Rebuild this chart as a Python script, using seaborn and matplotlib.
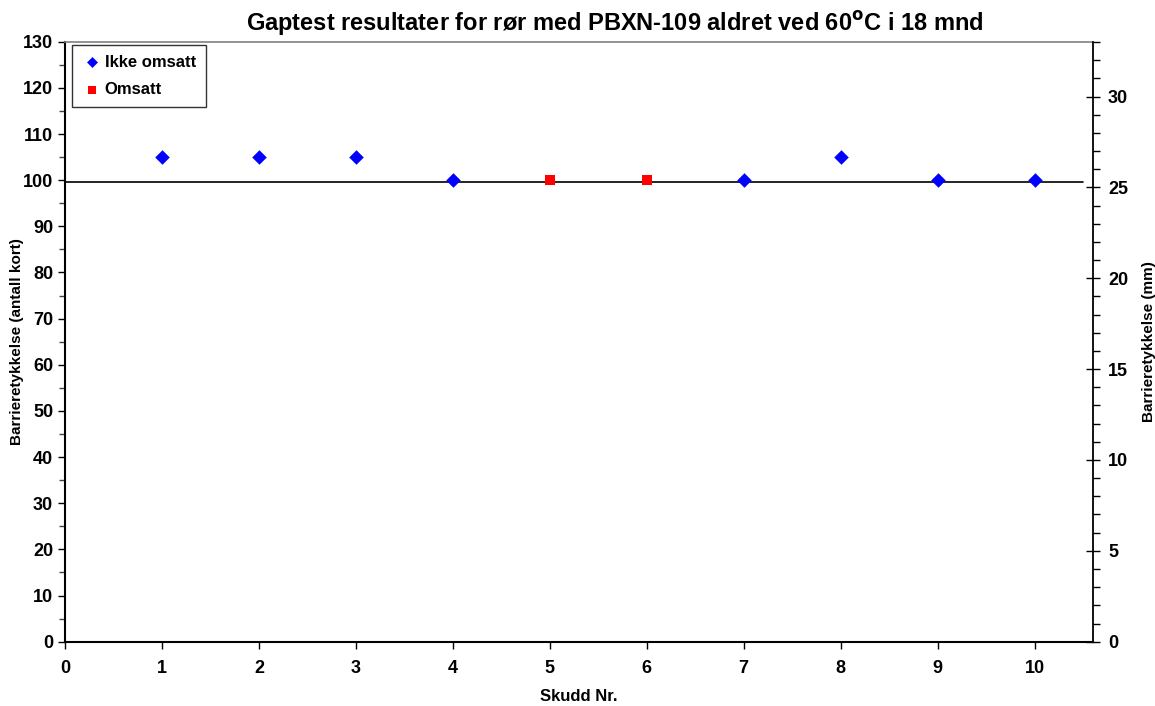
import matplotlib
matplotlib.use("Agg")
import matplotlib.pyplot as plt
import seaborn as sns
import pandas as pd
from matplotlib.ticker import MultipleLocator

shots = [1, 2, 3, 4, 5, 6, 7, 8, 9, 10]
cards = [105, 105, 105, 100, 100, 100, 100, 105, 100, 100]
status = ["Ikke omsatt", "Ikke omsatt", "Ikke omsatt", "Ikke omsatt", "Omsatt",
          "Omsatt", "Ikke omsatt", "Ikke omsatt", "Ikke omsatt", "Ikke omsatt"]
threshold = 99.5
mm_per_card = 0.254

df = pd.DataFrame({"Skudd": shots, "Kort": cards, "Status": status})

sns.set_style("white")
plt.rcParams["font.family"] = ["Liberation Sans", "DejaVu Sans"]
plt.rcParams["font.weight"] = "bold"
plt.rcParams["text.color"] = "black"
plt.rcParams["axes.labelcolor"] = "black"
plt.rcParams["xtick.color"] = "black"
plt.rcParams["ytick.color"] = "black"

fig = plt.figure(figsize=(11.55, 7.06), dpi=100)
ax = fig.add_axes([0.0563, 0.0911, 0.8898, 0.8498])

palette = {"Ikke omsatt": "#0000FF", "Omsatt": "#FF0000"}
markers = {"Ikke omsatt": "D", "Omsatt": "s"}
sizes = {"Ikke omsatt": 55, "Omsatt": 62}

for st in ["Ikke omsatt", "Omsatt"]:
    sub = df[df["Status"] == st]
    sns.scatterplot(data=sub, x="Skudd", y="Kort", color=palette[st], marker=markers[st],
                    s=sizes[st], edgecolor=palette[st], linewidth=0, ax=ax, label=st, zorder=3)

ax.plot([0, 10.5], [threshold, threshold], color="black", linewidth=1.2, zorder=2)

ax.set_xlim(0, 10.6)
ax.set_ylim(0, 130)
ax.xaxis.set_major_locator(MultipleLocator(1))
ax.yaxis.set_major_locator(MultipleLocator(10))
ax.yaxis.set_minor_locator(MultipleLocator(5))
ax.tick_params(axis="both", which="major", direction="out", length=5, width=1,
               labelsize=13, colors="black", left=True, bottom=True)
ax.tick_params(axis="x", which="major", pad=8)
ax.tick_params(axis="y", which="minor", direction="out", length=4, width=1, left=True, color="#444444")
for lab in ax.get_xticklabels() + ax.get_yticklabels():
    lab.set_fontweight("bold")

ax.set_xlabel("Skudd Nr.", fontsize=12, fontweight="bold", labelpad=9)
ax.set_ylabel("Barrieretykkelse (antall kort)", fontsize=11, fontweight="bold", labelpad=-1)
ax.set_title("Gaptest resultater for rør med PBXN-109 aldret ved 60$^\\mathbf{o}$C i 18 mnd",
             fontsize=17, fontweight="bold", pad=8, x=0.535)

for side in ["left", "bottom"]:
    ax.spines[side].set_color("black")
    ax.spines[side].set_linewidth(1.5)
for side in ["top", "right"]:
    ax.spines[side].set_color("#808080")
    ax.spines[side].set_linewidth(1.2)

ax2 = ax.twinx()
ax2.set_ylim(0, 130 * mm_per_card)
ax2.yaxis.set_major_locator(MultipleLocator(5))
ax2.yaxis.set_minor_locator(MultipleLocator(1))
ax2.tick_params(axis="y", which="major", direction="inout", length=10, width=1,
                labelsize=13, right=True, colors="black", pad=6)
ax2.tick_params(axis="y", which="minor", direction="out", length=5, width=1, right=True)
for lab in ax2.get_yticklabels():
    lab.set_fontweight("bold")
ax2.set_ylabel("Barrieretykkelse (mm)", fontsize=11, fontweight="bold", labelpad=10)
for side in ["left", "bottom", "top"]:
    ax2.spines[side].set_visible(False)
ax2.spines["right"].set_color("black")
ax2.spines["right"].set_linewidth(1.2)

leg = ax.legend(loc="upper left", bbox_to_anchor=(0.0068, 0.995), borderaxespad=0,
                frameon=True, fancybox=False, edgecolor="black", fontsize=12,
                handletextpad=0.15, borderpad=0.6, labelspacing=0.75, handlelength=1.2,
                markerscale=0.75)
leg.get_frame().set_linewidth(1.0)
for t in leg.get_texts():
    t.set_fontweight("bold")
    t.set_color("black")

fig.savefig("out.png", dpi=100)
